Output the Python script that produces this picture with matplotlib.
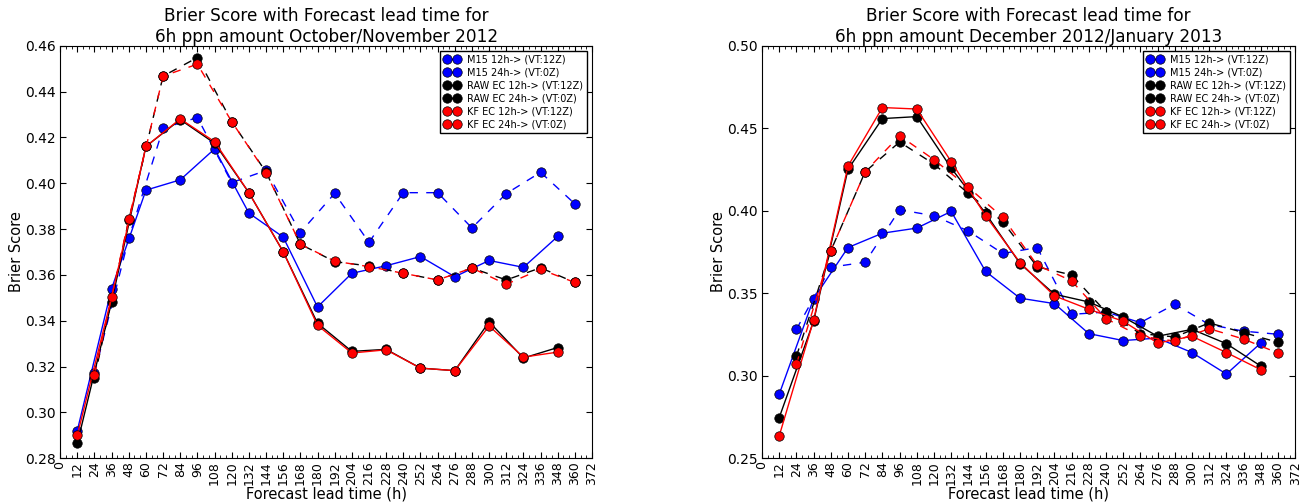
import matplotlib
matplotlib.use('Agg')
import matplotlib.pyplot as plt
from matplotlib.ticker import MultipleLocator

# lead times (h): 12h runs verify at 12Z, 24h runs at 0Z
lead_12 = [12, 36, 60, 84, 108, 132, 156, 180, 204, 228, 252, 276, 300, 324, 348]
lead_24 = [24, 48, 72, 96, 120, 144, 168, 192, 216, 240, 264, 288, 312, 336, 360]

labels = ['M15 12h-> (VT:12Z)', 'M15 24h-> (VT:0Z)',
          'RAW EC 12h-> (VT:12Z)', 'RAW EC 24h-> (VT:0Z)',
          'KF EC 12h-> (VT:12Z)', 'KF EC 24h-> (VT:0Z)']

# October/November 2012
m15_12_on = [0.292, 0.354, 0.397, 0.4015, 0.415, 0.387, 0.3765, 0.346, 0.3607, 0.364, 0.368, 0.3592, 0.3663, 0.3633, 0.3768]
m15_24_on = [0.317, 0.376, 0.424, 0.4287, 0.4003, 0.4056, 0.3785, 0.3956, 0.3742, 0.3959, 0.3959, 0.3805, 0.3955, 0.4048, 0.391]
raw_12_on = [0.2864, 0.3482, 0.4161, 0.4278, 0.4175, 0.3959, 0.3701, 0.3389, 0.3266, 0.3275, 0.3193, 0.3182, 0.3395, 0.3237, 0.3283]
raw_24_on = [0.315, 0.3839, 0.4468, 0.4549, 0.4269, 0.4049, 0.3734, 0.3658, 0.3639, 0.3607, 0.3578, 0.363, 0.3578, 0.3631, 0.3567]
kf_12_on = [0.2899, 0.3502, 0.4161, 0.4281, 0.4182, 0.3959, 0.3701, 0.338, 0.3259, 0.3273, 0.3193, 0.3182, 0.3377, 0.3241, 0.3263]
kf_24_on = [0.3164, 0.3842, 0.4468, 0.452, 0.4269, 0.4046, 0.3734, 0.366, 0.3636, 0.3607, 0.3578, 0.363, 0.3559, 0.3624, 0.3567]

# December 2012/January 2013
m15_12_dj = [0.2887, 0.3466, 0.3777, 0.3864, 0.3895, 0.3996, 0.3632, 0.347, 0.3437, 0.3255, 0.3213, 0.3228, 0.314, 0.301, 0.3198]
m15_24_dj = [0.3281, 0.3658, 0.3688, 0.4006, 0.397, 0.3877, 0.3741, 0.3777, 0.3372, 0.3386, 0.3322, 0.3433, 0.331, 0.327, 0.3251]
raw_12_dj = [0.2745, 0.333, 0.4251, 0.4559, 0.4571, 0.4259, 0.3984, 0.368, 0.3494, 0.3447, 0.3356, 0.3239, 0.3281, 0.3194, 0.3058]
raw_24_dj = [0.3117, 0.3757, 0.4237, 0.4417, 0.4283, 0.4105, 0.3933, 0.366, 0.3611, 0.3386, 0.3255, 0.3235, 0.332, 0.3261, 0.3202]
kf_12_dj = [0.2634, 0.3336, 0.4271, 0.4626, 0.4617, 0.4298, 0.397, 0.3686, 0.3484, 0.3403, 0.333, 0.3198, 0.3239, 0.314, 0.3036]
kf_24_dj = [0.3069, 0.3757, 0.4237, 0.4455, 0.431, 0.4142, 0.396, 0.367, 0.3575, 0.3346, 0.3239, 0.321, 0.3285, 0.3222, 0.3137]

titles = ['Brier Score with Forecast lead time for\n6h ppn amount October/November 2012',
          'Brier Score with Forecast lead time for\n6h ppn amount December 2012/January 2013']


def plot_panel(ax, series, title, ylim, ystep):
	'''draw the six curves of one period'''
	colors = ['b', 'b', 'k', 'k', 'r', 'r']
	for i in range(6):
		x = lead_12 if i % 2 == 0 else lead_24
		line, = ax.plot(x, series[i], color=colors[i], linewidth=1,
			marker='o', markersize=6.8, markeredgecolor='k', markeredgewidth=0.5,
			label=labels[i])
		# old style long dashes for the 24h runs
		if i % 2 == 1:
			line.set_dashes((6, 6))
	ax.set_xlim(0, 372)
	ax.set_ylim(ylim)
	ax.set_xticks(range(0, 373, 12))
	ax.xaxis.set_minor_locator(MultipleLocator(4))
	ax.yaxis.set_major_locator(MultipleLocator(ystep))
	ax.tick_params(which='both', direction='in', top=True, right=True)
	ax.tick_params(which='major', length=4)
	ax.tick_params(which='minor', length=2)
	ax.tick_params(axis='y', labelsize=10, pad=3)
	ax.tick_params(axis='x', labelsize=9, pad=2, labelrotation=90)
	ax.yaxis.set_major_formatter(plt.FormatStrFormatter('%.2f'))
	ax.set_xlabel('Forecast lead time (h)', fontsize=10.5, labelpad=1)
	ax.set_ylabel('Brier Score', fontsize=10.5, labelpad=1)
	ax.set_title(title, fontsize=12.2, pad=3)
	leg = ax.legend(loc='upper right', fontsize=7, numpoints=2, handlelength=1.6,
		borderaxespad=0.5, fancybox=False, framealpha=1, labelspacing=0.3)
	leg.get_frame().set_edgecolor('k')


fig = plt.figure(figsize=(13.07, 5.04), dpi=100)
ax1 = fig.add_axes([0.046, 0.091, 0.407, 0.818])
ax2 = fig.add_axes([0.583, 0.091, 0.408, 0.818])

plot_panel(ax1, [m15_12_on, m15_24_on, raw_12_on, raw_24_on, kf_12_on, kf_24_on],
	titles[0], (0.28, 0.46), 0.02)
plot_panel(ax2, [m15_12_dj, m15_24_dj, raw_12_dj, raw_24_dj, kf_12_dj, kf_24_dj],
	titles[1], (0.25, 0.50), 0.05)

fig.savefig('out.png', dpi=100)
